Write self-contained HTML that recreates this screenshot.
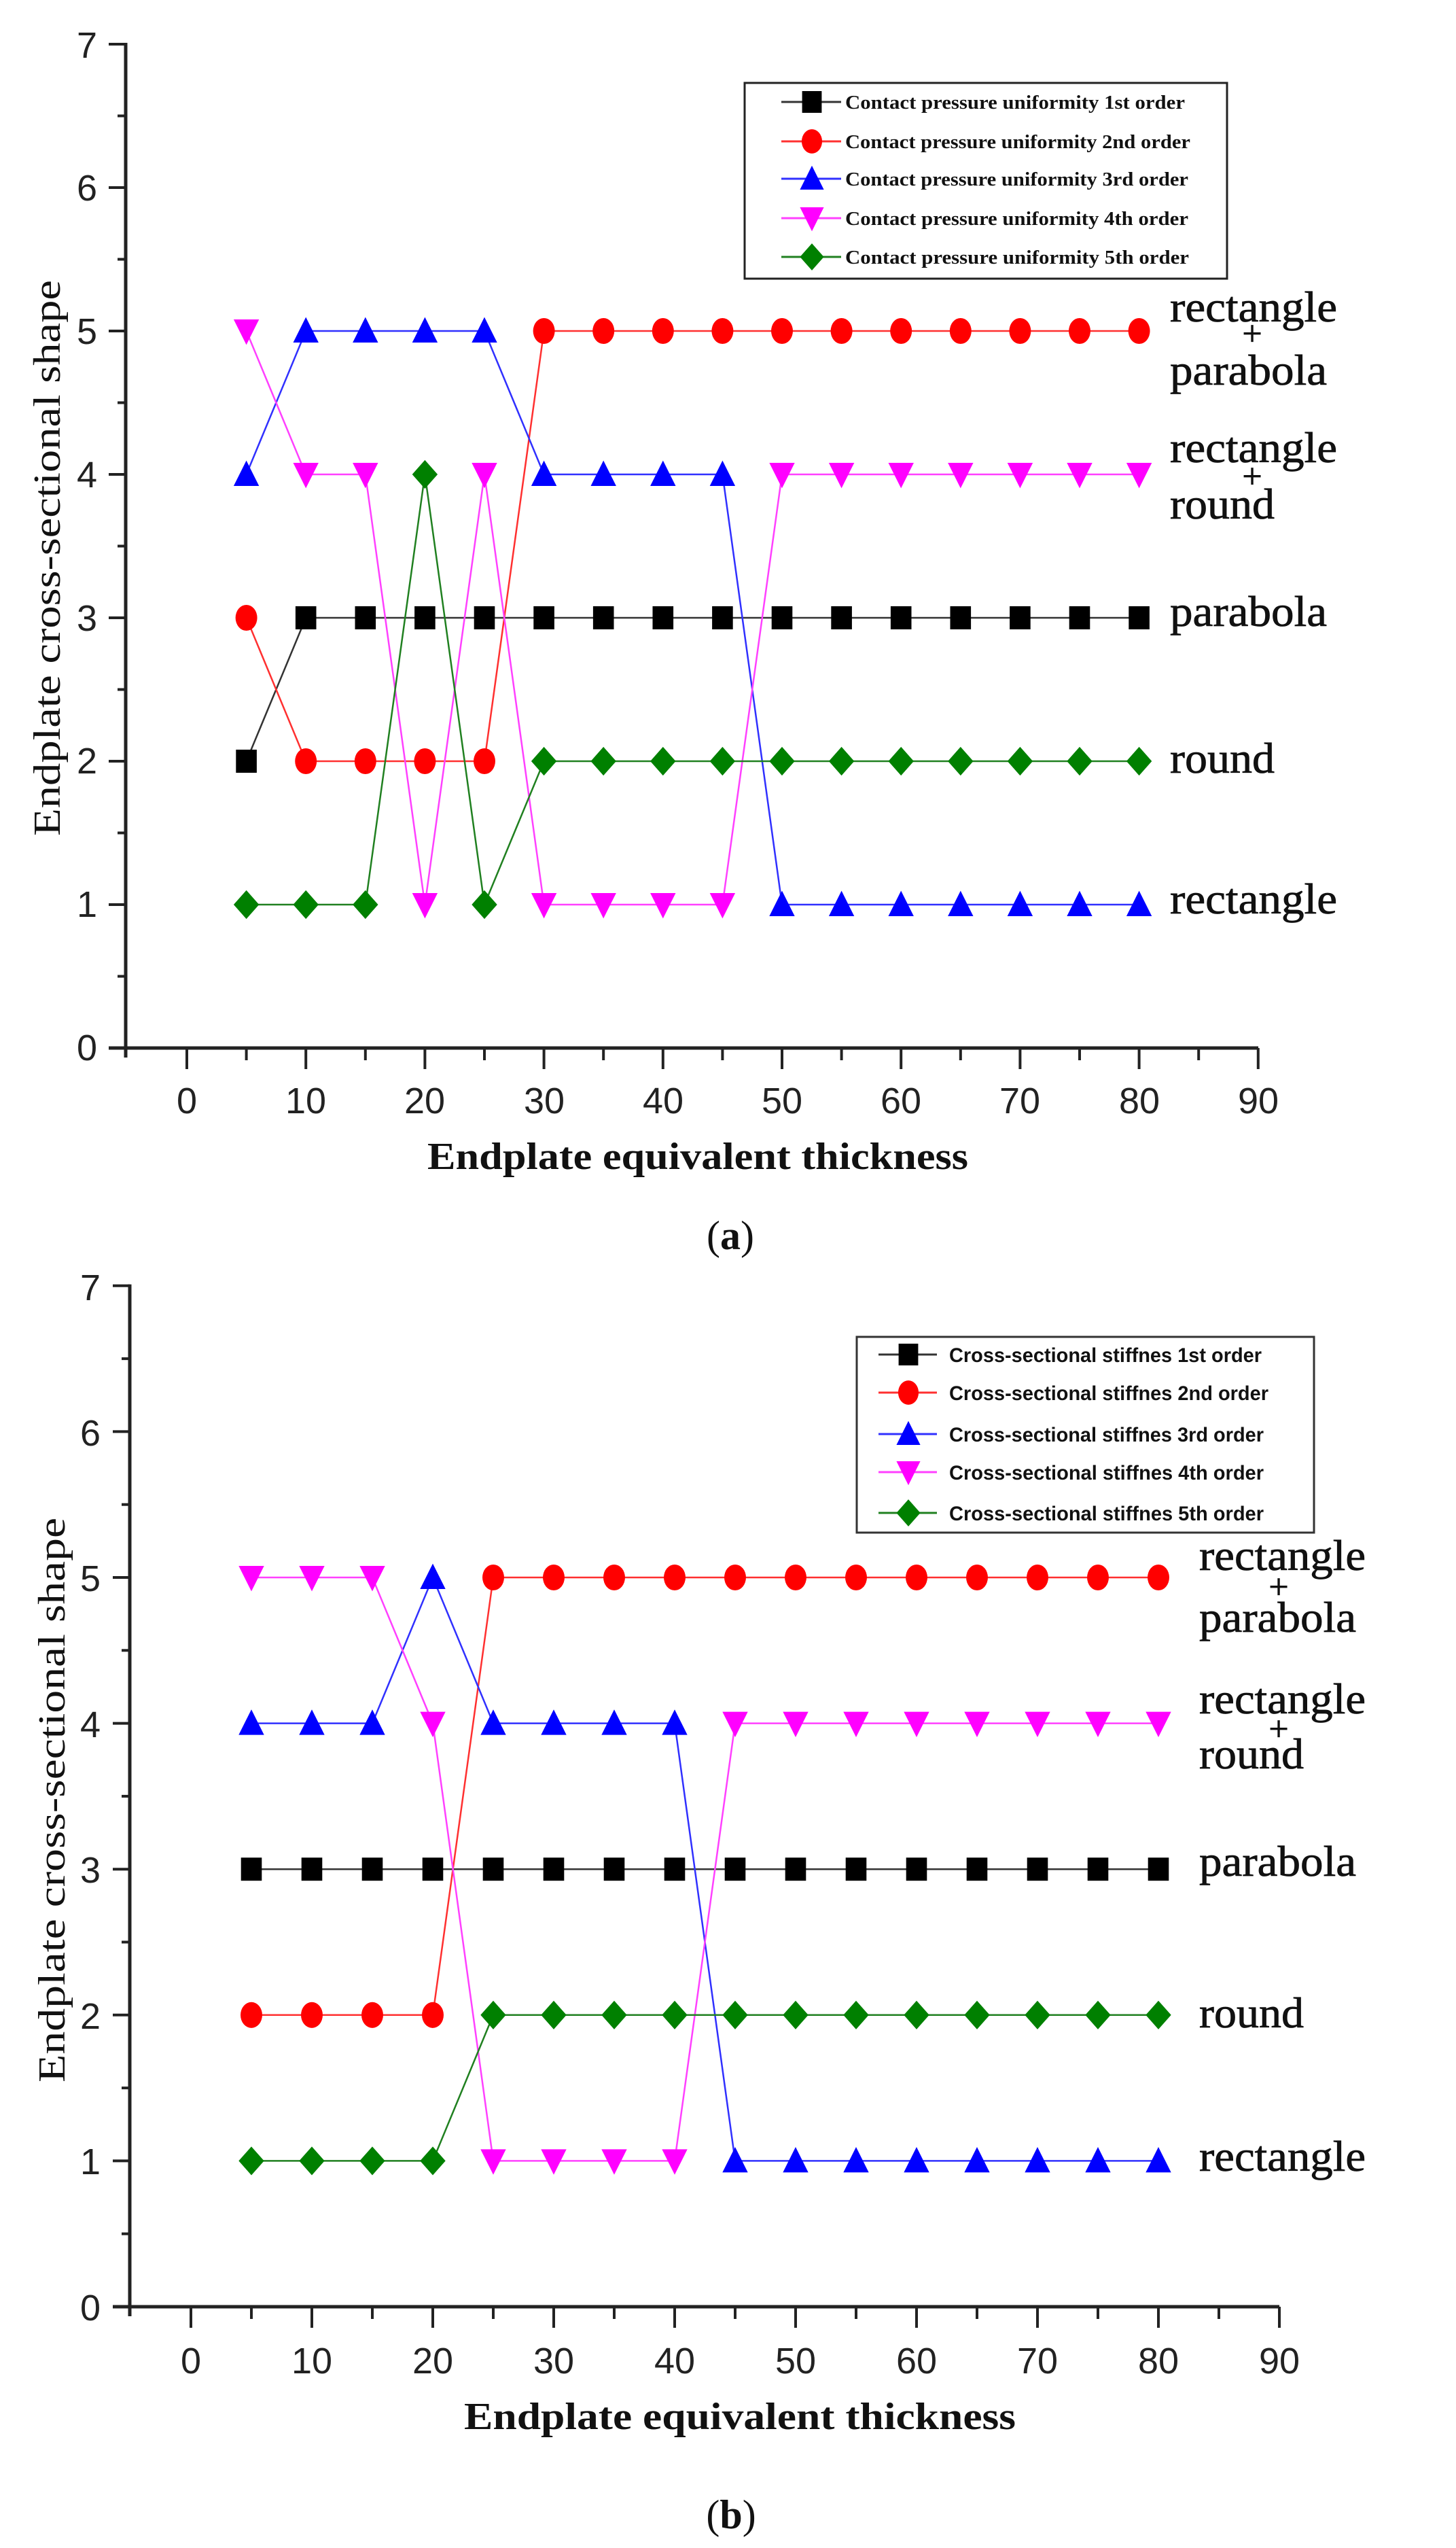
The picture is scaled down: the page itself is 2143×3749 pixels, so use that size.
<!DOCTYPE html>
<html><head><meta charset="utf-8"><style>
html,body{margin:0;padding:0;background:#fff;}
svg{display:block}
.tk{font-family:"Liberation Sans",sans-serif;font-size:54px;fill:#222}
.ttl{font-family:"Liberation Serif",serif;font-weight:bold;font-size:56px;fill:#111}
.lab{font-family:"Liberation Serif",serif;font-size:64px;fill:#111;stroke:#111;stroke-width:0.8}
.lga{font-family:"Liberation Serif",serif;font-weight:bold;font-size:29px;fill:#111}
.lgb{font-family:"Liberation Sans",sans-serif;font-weight:bold;font-size:30px;fill:#111}
</style></head><body>
<svg id="s" width="2143" height="3749" viewBox="0 0 2143 3749" xmlns="http://www.w3.org/2000/svg">
<rect width="2143" height="3749" fill="#fff"/>
<g id="ga"></g><g id="gb"></g>

<!-- Chart a text -->
<g class="tk" text-anchor="middle">
<text x="128" y="1560">0</text><text x="128" y="1349">1</text><text x="128" y="1138">2</text><text x="128" y="928">3</text><text x="128" y="717">4</text><text x="128" y="506">5</text><text x="128" y="295">6</text><text x="128" y="85">7</text>
<text x="275" y="1638">0</text><text x="450" y="1638">10</text><text x="625" y="1638">20</text><text x="801" y="1638">30</text><text x="976" y="1638">40</text><text x="1151" y="1638">50</text><text x="1326" y="1638">60</text><text x="1501" y="1638">70</text><text x="1677" y="1638">80</text><text x="1852" y="1638">90</text>
</g>
<text class="ttl" x="629" y="1720" textLength="796" lengthAdjust="spacingAndGlyphs">Endplate equivalent thickness</text>
<text class="ttl" transform="translate(88,1230) rotate(-90)" x="0" y="0" textLength="818" lengthAdjust="spacingAndGlyphs" style="font-weight:normal">Endplate cross-sectional shape</text>
<text class="ttl" x="1075" y="1838" text-anchor="middle" style="font-weight:normal;font-size:60px">(<tspan font-weight="bold">a</tspan>)</text>
<g class="lab">
<text x="1722" y="473" textLength="246" lengthAdjust="spacingAndGlyphs">rectangle</text>
<text x="1843" y="508" text-anchor="middle" font-size="52">+</text>
<text x="1722" y="566" textLength="231" lengthAdjust="spacingAndGlyphs">parabola</text>
<text x="1722" y="680" textLength="246" lengthAdjust="spacingAndGlyphs">rectangle</text>
<text x="1843" y="718" text-anchor="middle" font-size="52">+</text>
<text x="1722" y="763" textLength="154" lengthAdjust="spacingAndGlyphs">round</text>
<text x="1722" y="921" textLength="231" lengthAdjust="spacingAndGlyphs">parabola</text>
<text x="1722" y="1137" textLength="154" lengthAdjust="spacingAndGlyphs">round</text>
<text x="1722" y="1344" textLength="246" lengthAdjust="spacingAndGlyphs">rectangle</text>
</g>
<rect x="1096" y="122" width="710" height="288" fill="#fff" stroke="#222" stroke-width="3"/>
<g class="lga">
<text x="1244" y="160" textLength="500" lengthAdjust="spacingAndGlyphs">Contact pressure uniformity 1st order</text>
<text x="1244" y="218" textLength="508" lengthAdjust="spacingAndGlyphs">Contact pressure uniformity 2nd order</text>
<text x="1244" y="273" textLength="505" lengthAdjust="spacingAndGlyphs">Contact pressure uniformity 3rd order</text>
<text x="1244" y="331" textLength="505" lengthAdjust="spacingAndGlyphs">Contact pressure uniformity 4th order</text>
<text x="1244" y="388" textLength="506" lengthAdjust="spacingAndGlyphs">Contact pressure uniformity 5th order</text>
</g>

<!-- Chart b text -->
<g class="tk" text-anchor="middle">
<text x="133" y="3414">0</text><text x="133" y="3199">1</text><text x="133" y="2985">2</text><text x="133" y="2770">3</text><text x="133" y="2556">4</text><text x="133" y="2341">5</text><text x="133" y="2127">6</text><text x="133" y="1913">7</text>
<text x="281" y="3492">0</text><text x="459" y="3492">10</text><text x="637" y="3492">20</text><text x="815" y="3492">30</text><text x="993" y="3492">40</text><text x="1171" y="3492">50</text><text x="1349" y="3492">60</text><text x="1527" y="3492">70</text><text x="1705" y="3492">80</text><text x="1883" y="3492">90</text>
</g>
<text class="ttl" x="683" y="3574" textLength="812" lengthAdjust="spacingAndGlyphs">Endplate equivalent thickness</text>
<text class="ttl" transform="translate(95,3064) rotate(-90)" x="0" y="0" textLength="831" lengthAdjust="spacingAndGlyphs" style="font-weight:normal">Endplate cross-sectional shape</text>
<text class="ttl" x="1076" y="3720" text-anchor="middle" style="font-weight:normal;font-size:60px">(<tspan font-weight="bold">b</tspan>)</text>
<g class="lab">
<text x="1765" y="2310" textLength="245" lengthAdjust="spacingAndGlyphs">rectangle</text>
<text x="1882" y="2352" text-anchor="middle" font-size="52">+</text>
<text x="1765" y="2401" textLength="231" lengthAdjust="spacingAndGlyphs">parabola</text>
<text x="1765" y="2521" textLength="245" lengthAdjust="spacingAndGlyphs">rectangle</text>
<text x="1882" y="2561" text-anchor="middle" font-size="52">+</text>
<text x="1765" y="2602" textLength="154" lengthAdjust="spacingAndGlyphs">round</text>
<text x="1765" y="2760" textLength="231" lengthAdjust="spacingAndGlyphs">parabola</text>
<text x="1765" y="2983" textLength="154" lengthAdjust="spacingAndGlyphs">round</text>
<text x="1765" y="3194" textLength="245" lengthAdjust="spacingAndGlyphs">rectangle</text>
</g>
<rect x="1261" y="1967" width="673" height="288" fill="#fff" stroke="#333" stroke-width="3"/>
<g class="lgb">
<text x="1397" y="2004" textLength="460" lengthAdjust="spacingAndGlyphs">Cross-sectional stiffnes 1st order</text>
<text x="1397" y="2060" textLength="470" lengthAdjust="spacingAndGlyphs">Cross-sectional stiffnes 2nd order</text>
<text x="1397" y="2121" textLength="463" lengthAdjust="spacingAndGlyphs">Cross-sectional stiffnes 3rd order</text>
<text x="1397" y="2177" textLength="463" lengthAdjust="spacingAndGlyphs">Cross-sectional stiffnes 4th order</text>
<text x="1397" y="2237" textLength="463" lengthAdjust="spacingAndGlyphs">Cross-sectional stiffnes 5th order</text>
</g>
<g id="lg"></g>
</svg>
<script>
(function(){
var NS="http://www.w3.org/2000/svg";
function el(p,t,a){var e=document.createElementNS(NS,t);for(var k in a)e.setAttribute(k,a[k]);p.appendChild(e);return e;}
var cols=["#000000","#ff0000","#0000ff","#ff00ff","#008000"];
var lcols=["#333","#ff3030","#3030ff","#ff40ff","#208020"];
function marker(g,type,x,y,c,s){
 if(type==0) el(g,"rect",{x:x-s*0.45,y:y-s*0.5,width:s*0.9,height:s,fill:c});
 else if(type==1) el(g,"ellipse",{cx:x,cy:y,rx:s*0.47,ry:s*0.56,fill:c});
 else if(type==2) el(g,"polygon",{points:(x-s*0.55)+","+(y+s*0.5)+" "+(x+s*0.55)+","+(y+s*0.5)+" "+x+","+(y-s*0.6),fill:c});
 else if(type==3) el(g,"polygon",{points:(x-s*0.55)+","+(y-s*0.5)+" "+(x+s*0.55)+","+(y-s*0.5)+" "+x+","+(y+s*0.6),fill:c});
 else el(g,"polygon",{points:x+","+(y-s*0.62)+" "+(x+s*0.55)+","+y+" "+x+","+(y+s*0.62)+" "+(x-s*0.55)+","+y,fill:c});
}
var LG=document.getElementById("lg");
function chart(g,ax,x0,dx,y0,dy,xend,data,leg){
 for(var i=0;i<5;i++){
  var pts=data[i].map(function(v,j){return (x0+dx*(5+5*j)/10)+","+(y0-dy*v);}).join(" ");
  el(g,"polyline",{points:pts,fill:"none",stroke:lcols[i],"stroke-width":2.5});
 }
 for(var i=0;i<5;i++) data[i].forEach(function(v,j){marker(g,i,x0+dx*(5+5*j)/10,y0-dy*v,cols[i],34);});
 el(g,"line",{x1:ax,y1:y0-7*dy-2,x2:ax,y2:y0+14,stroke:"#222","stroke-width":5});
 el(g,"line",{x1:ax-25,y1:y0,x2:xend,y2:y0,stroke:"#222","stroke-width":5});
 for(var k=0;k<=14;k++){var yy=y0-dy*k/2;el(g,"line",{x1:ax-(k%2?12:25),y1:yy,x2:ax,y2:yy,stroke:"#222","stroke-width":4});}
 for(var k=0;k<=18;k++){var xx=x0+dx*k/2;el(g,"line",{x1:xx,y1:y0,x2:xx,y2:y0+(k%2?18:31),stroke:"#222","stroke-width":4});}
 for(var i=0;i<5;i++){
  el(LG,"line",{x1:leg.l1,y1:leg.ys[i],x2:leg.l2,y2:leg.ys[i],stroke:lcols[i],"stroke-width":3});
  marker(LG,i,leg.mx,leg.ys[i],cols[i],32);
 }
}
var A=[[2,3,3,3,3,3,3,3,3,3,3,3,3,3,3,3],
[3,2,2,2,2,5,5,5,5,5,5,5,5,5,5,5],
[4,5,5,5,5,4,4,4,4,1,1,1,1,1,1,1],
[5,4,4,1,4,1,1,1,1,4,4,4,4,4,4,4],
[1,1,1,4,1,2,2,2,2,2,2,2,2,2,2,2]];
var B=[[3,3,3,3,3,3,3,3,3,3,3,3,3,3,3,3],
[2,2,2,2,5,5,5,5,5,5,5,5,5,5,5,5],
[4,4,4,5,4,4,4,4,1,1,1,1,1,1,1,1],
[5,5,5,4,1,1,1,1,4,4,4,4,4,4,4,4],
[1,1,1,1,2,2,2,2,2,2,2,2,2,2,2,2]];
chart(document.getElementById("ga"),185,275,175.2,1542,211,1852,A,{l1:1150,l2:1238,mx:1195,ys:[150,208,263,321,378]});
chart(document.getElementById("gb"),191,281,178,3394,214.6,1883,B,{l1:1293,l2:1379,mx:1337,ys:[1993,2049,2110,2166,2226]});
})();
</script>
</body></html>
